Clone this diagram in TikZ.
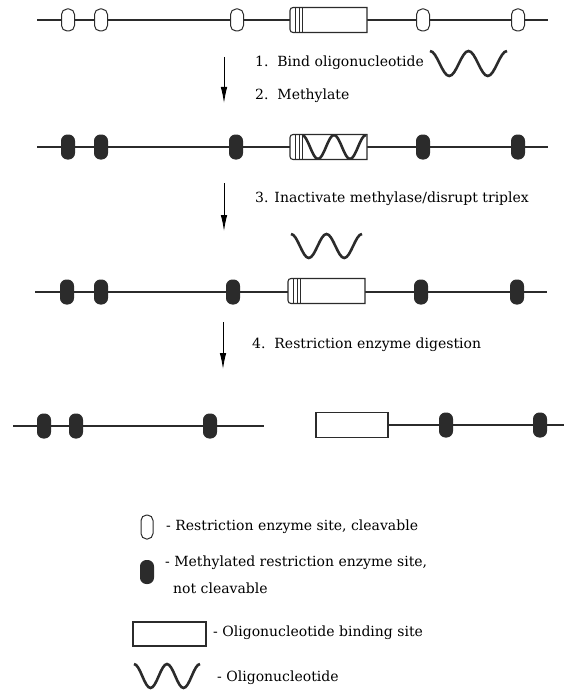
\documentclass[tikz,border=0pt]{standalone}
\usepackage{fontspec}
\setmainfont{DejaVu Serif}
\usetikzlibrary{arrows.meta}
\definecolor{ink}{HTML}{2B2B2B}
\newcommand\oligowave[5]{% x0, ytop, width, height, name
  \pgfmathsetmacro\wq{#3/8}\pgfmathsetmacro\wh{#4/2}%
  \draw[wavestyle] (#1,#2) coordinate (#5) cos ++(\wq,\wh) sin ++(\wq,\wh) cos ++(\wq,-\wh) sin ++(\wq,-\wh)
     cos ++(\wq,\wh) sin ++(\wq,\wh) cos ++(\wq,-\wh) sin ++(\wq,-\wh);}
\newcommand\capbox[3]{% xleft, ycenter, name
  \draw[boxstyle] (#1+77,#2-12.5) [rounded corners=3pt] -- (#1,#2-12.5) -- (#1,#2+12.5) [sharp corners] -- (#1+77,#2+12.5) -- cycle;
  \draw[line width=0.7pt, draw=ink] (#1+5,#2-12.5) -- (#1+5,#2+12.5) (#1+9,#2-12.5) -- (#1+9,#2+12.5) (#1+12,#2-12.5) -- (#1+12,#2+12.5);
  \coordinate (#3) at (#1,#2);}
\begin{document}
\begin{tikzpicture}[x=1pt,y=-1pt,
  dna/.style={line width=1.5pt, draw=ink},
  site/.style={draw=ink, line width=1pt, fill=white, rounded corners=5.5pt, minimum width=13pt, minimum height=22pt, inner sep=0pt},
  msite/.style={site, fill=ink, minimum width=13pt, minimum height=24pt, rounded corners=6pt},
  boxstyle/.style={draw=ink, line width=1.1pt, fill=white},
  wavestyle/.style={draw=ink, line width=2.6pt},
  lbl/.style={anchor=west, inner sep=0pt, font=\fontsize{14}{16}\selectfont, text=black},
  stepArrow/.style={draw=black, line width=0.9pt, -{Latex[length=16pt,width=6.5pt]}}]
\useasboundingbox (0,0) rectangle (564,690);

% Row 1
\draw[dna] (37,20) coordinate (r1a) -- (548,20) coordinate (r1b);
\capbox{290}{20}{b1}
\foreach \x/\n in {68/a,101/b,237/c,423/d,518/e} \node[site] (s1\n) at (\x,20) {};
\oligowave{430}{51}{77}{25}{w1}
\node[lbl] (t1) at (255,63) {1.\ \ Bind oligonucleotide};
\node[lbl] (t2) at (255,96) {2.\ \ Methylate};
\coordinate (a1s) at (224,57); \coordinate (a1e) at (224,103);
\draw[stepArrow] (a1s) -- (a1e);

% Row 2
\draw[dna] (37,147) coordinate (r2a) -- (548,147) coordinate (r2b);
\capbox{290}{147}{b2}
\begin{scope}
  \clip (302,134.5) rectangle (367,159.5);
  \oligowave{302}{135}{64}{24}{w2}
\end{scope}
\foreach \x/\n in {68/a,101/b,236/c,423/d,518/e} \node[msite] (s2\n) at (\x,147) {};
\node[lbl] (t3) at (255,199) {3. Inactivate methylase/disrupt triplex};
\coordinate (a2s) at (224,183); \coordinate (a2e) at (224,231);
\draw[stepArrow] (a2s) -- (a2e);

% Free oligo
\oligowave{291}{234}{71}{24}{w3}

% Row 3
\draw[dna] (35,292) coordinate (r3a) -- (547,292) coordinate (r3b);
\capbox{288}{291}{b3}
\foreach \x/\n in {67/a,101/b,233/c,421/d,517/e} \node[msite] (s3\n) at (\x,292) {};
\node[lbl] (t4) at (252,345) {4.\ \ Restriction enzyme digestion};
\coordinate (a3s) at (223,322); \coordinate (a3e) at (223,369);
\draw[stepArrow] (a3s) -- (a3e);

% Row 4
\draw[dna] (13,426) coordinate (r4a) -- (264,426) coordinate (r4b);
\foreach \x/\n in {44/a,76/b,210/c} \node[msite] (s4\n) at (\x,426) {};
\node[boxstyle, minimum width=72pt, minimum height=25pt, inner sep=0pt] (b4) at (352,425) {};
\draw[dna] (b4.east) -- (564,425) coordinate (r4c);
\foreach \x/\n in {446/d,540/e} \node[msite] (s4\n) at (\x,425) {};

% Legend
\node[site, minimum height=24pt, minimum width=12pt, rounded corners=5.5pt] (L1) at (147,527) {};
\node[lbl] (L1t) at (166,527) {- Restriction enzyme site, cleavable};
\node[msite, minimum height=23pt, minimum width=13pt, rounded corners=6pt] (L2) at (147,572) {};
\node[lbl] (L2t) at (165,563) {- Methylated restriction enzyme site,};
\node[lbl] (L2u) at (173,588) {not cleavable};
\node[boxstyle, minimum width=73pt, minimum height=24pt, inner sep=0pt] (L3) at (169.5,634) {};
\node[lbl] (L3t) at (213,633) {- Oligonucleotide binding site};
\oligowave{134}{664}{66}{24}{L4}
\node[lbl] (L4t) at (217,678) {- Oligonucleotide};
\end{tikzpicture}
\end{document}
